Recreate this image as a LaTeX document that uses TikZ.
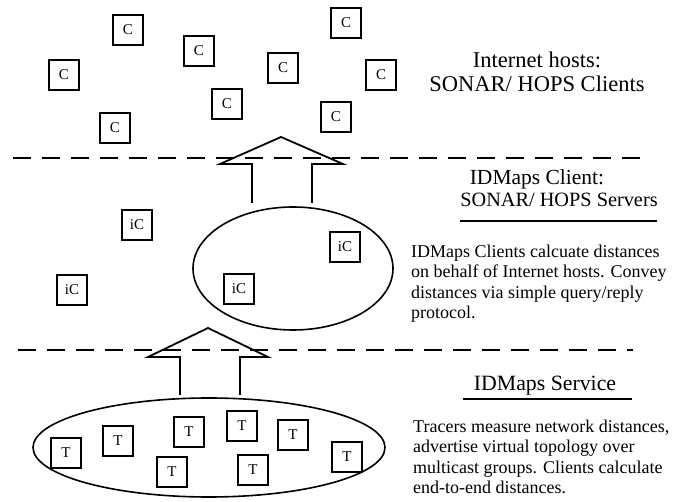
\documentclass[tikz,border=0pt]{standalone}
\usepackage{fontspec}
\setmainfont{Liberation Serif}
\usetikzlibrary{shapes}

\begin{document}
\begin{tikzpicture}[x=1pt, y=-1pt,
	box/.style = {shape=rectangle, draw, line width=1.8, minimum size=30, inner sep=0, font=\fontsize{15}{15}\selectfont},
	group/.style = {shape=ellipse, draw, line width=1.6, inner sep=0},
	layer/.style = {line width=2.2, dash pattern=on 18pt off 11pt},
	bigarrow/.style = {line width=1.8, line join=miter},
	heading/.style = {anchor=base, inner sep=0, font=\fontsize{21.5}{24}\selectfont},
	remark/.style = {anchor=base west, align=left, inner sep=0, font=\fontsize{18}{20.5}\selectfont}]
	\useasboundingbox (0,0) rectangle (697,502);

	\node(c1) at (128,30) [box] {C};
	\node(c2) at (199,51) [box] {C};
	\node(c3) at (64,75) [box] {C};
	\node(c4) at (283,68) [box] {C};
	\node(c5) at (346,23) [box] {C};
	\node(c6) at (381,75) [box] {C};
	\node(c7) at (227,104) [box] {C};
	\node(c8) at (336,117) [box] {C};
	\node(c9) at (115,128) [box] {C};

	\node(srv) at (293,268.5) [group, minimum width=200, minimum height=123] {};
	\node(ic1) at (137,225) [box] {iC};
	\node(ic2) at (345,247) [box] {iC};
	\node(ic3) at (72,290) [box] {iC};
	\node(ic4) at (239,289) [box] {iC};

	\node(svc) at (209,447.5) [group, minimum width=352, minimum height=99] {};
	\node(t1) at (66,453) [box] {T};
	\node(t2) at (118,441) [box] {T};
	\node(t3) at (189,432) [box] {T};
	\node(t4) at (242,426) [box] {T};
	\node(t5) at (293,435) [box] {T};
	\node(t6) at (347,457) [box] {T};
	\node(t7) at (172,472) [box] {T};
	\node(t8) at (253,470) [box] {T};

	\draw [layer] (13,158) -- (645,158);
	\draw [layer] (18,350) -- (633,350);

	\draw [bigarrow] (252,203) -- (252,164) -- (220,164) -- (281,137) -- (343,164) -- (312,164) -- (312,203);
	\draw [bigarrow] (180,395) -- (180,357) -- (148,357) -- (208,328) -- (268,357) -- (240,357) -- (240,395);

	\node(hosthead) at (537,92) [heading, align=center, font=\fontsize{22.5}{24}\selectfont] {Internet hosts:\\SONAR/ HOPS Clients};
	\node(clihead) at (537,185) [heading] {IDMaps Client:};
	\node(srvhead) at (559,207) [heading, font=\fontsize{20.3}{24}\selectfont] {SONAR/ HOPS Servers};
	\draw [line width=1.6] (460,221) -- (657,221);
	\node(clitext) at (411,319) [remark] {IDMaps Clients calcuate distances\\on behalf of Internet hosts. Convey\\distances via simple query/reply\\protocol.};

	\node(svchead) at (545,391) [heading, font=\fontsize{21.8}{24}\selectfont] {IDMaps Service};
	\draw [line width=1.6] (463,399) -- (632,399);
	\node(svctext) at (413,494) [remark] {Tracers measure network distances,\\advertise virtual topology over\\multicast groups. Clients calculate\\end-to-end distances.};
\end{tikzpicture}
\end{document}
